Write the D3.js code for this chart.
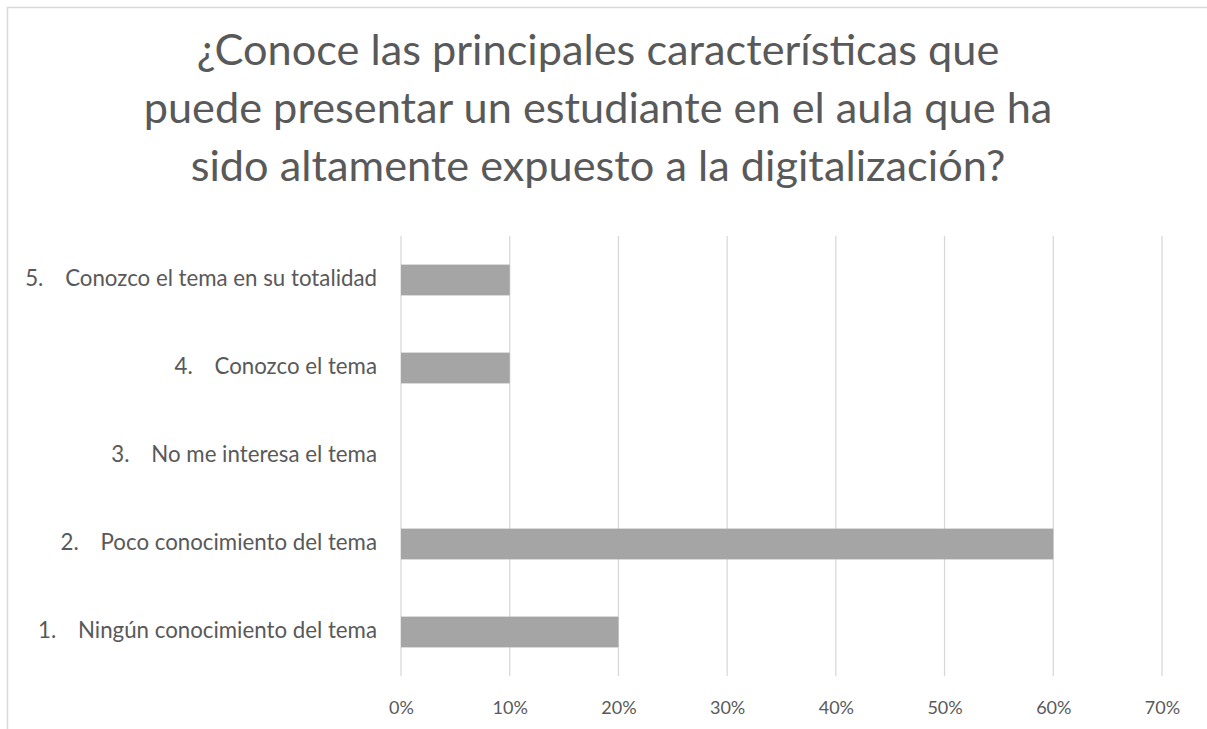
<!DOCTYPE html>
<html>
<head>
<meta charset="utf-8">
<script src="https://cdn.jsdelivr.net/npm/d3@7"></script>
<style>
  body { margin: 0; background: #fff; }
  text { font-family: Lato, "Open Sans", sans-serif; fill: #595959; }
</style>
</head>
<body>
<div id="chart"></div>
<script>
//data
var titleLines = ["¿Conoce las principales características que",
    "puede presentar un estudiante en el aula que ha",
    "sido altamente expuesto a la digitalización?"];
var numbers = ["1.", "2.", "3.", "4.", "5."];
var categories = ["Ningún conocimiento del tema", "Poco conocimiento del tema",
    "No me interesa el tema", "Conozco el tema", "Conozco el tema en su totalidad"];
var values = [0.20, 0.60, 0, 0.10, 0.10];
var ticks = [0, 0.1, 0.2, 0.3, 0.4, 0.5, 0.6, 0.7];

var width = 1207, height = 729;
var svg = d3.select("#chart").append("svg").attr("width", width).attr("height", height);

//chart border (cropped at right and bottom)
svg.append("path")
    .attr("d", "M7.5," + (height + 5) + "V7.5H" + (width + 5))
    .attr("fill", "none").attr("stroke", "#d9d9d9").attr("stroke-width", 1.5);

//scales
var x = d3.scaleLinear().domain([0, 0.7]).range([401, 1162]);
var y = d3.scaleBand().domain(categories.slice().reverse()).range([236, 676])
    .paddingInner(0.65).paddingOuter(0.325);

//title, fitted to the reference width
var title = svg.append("g");
title.selectAll("text").data(titleLines).enter().append("text")
    .attr("x", 598)
    .attr("y", function(d, i){ return 65 + i * 58; })
    .attr("text-anchor", "middle")
    .style("font-size", "40px")
    .text(function(d){ return d; });
var w = title.selectAll("text").nodes()[1].getComputedTextLength();
title.selectAll("text").style("font-size", (40 * 909 / w) + "px");

//gridlines
svg.append("g").selectAll("line").data(ticks).enter().append("line")
    .attr("x1", function(d){ return x(d); }).attr("x2", function(d){ return x(d); })
    .attr("y1", 236).attr("y2", 676)
    .attr("stroke", "#d9d9d9").attr("stroke-width", 1.3);

//x axis labels
var xA = d3.axisBottom(x).tickValues(ticks).tickSize(0).tickPadding(0)
    .tickFormat(d3.format(".0%"));
var gx = svg.append("g").attr("transform", "translate(0,714)").call(xA);
gx.select(".domain").remove();
gx.selectAll("text").attr("dy", 0).style("font-size", "18px").attr("fill", "#595959");

//bars
svg.append("g").selectAll("rect").data(values).enter().append("rect")
    .attr("x", x(0))
    .attr("y", function(d, i){ return y(categories[i]); })
    .attr("width", function(d){ return x(d) - x(0); })
    .attr("height", y.bandwidth())
    .attr("fill", "#a5a5a5");

//category labels: number + text, right aligned, fitted to the reference width
var labels = svg.append("g").selectAll("g").data(categories).enter().append("g");
labels.append("text")
    .attr("class", "cat")
    .attr("x", 377)
    .attr("y", function(d){ return y(d) + y.bandwidth() / 2 + 6; })
    .attr("text-anchor", "end")
    .style("font-size", "18px")
    .text(function(d){ return d; });
var lw = labels.selectAll(".cat").nodes()[4].getComputedTextLength();
var fs = 18 * 312 / lw;
labels.selectAll(".cat").style("font-size", fs + "px");
labels.append("text")
    .attr("x", function(d, i){
        var t = d3.select(this.parentNode).select(".cat").node().getComputedTextLength();
        return 377 - t - 40;
    })
    .attr("y", function(d){ return y(d) + y.bandwidth() / 2 + 6; })
    .style("font-size", fs + "px")
    .text(function(d, i){ return numbers[i]; });
</script>
</body>
</html>
